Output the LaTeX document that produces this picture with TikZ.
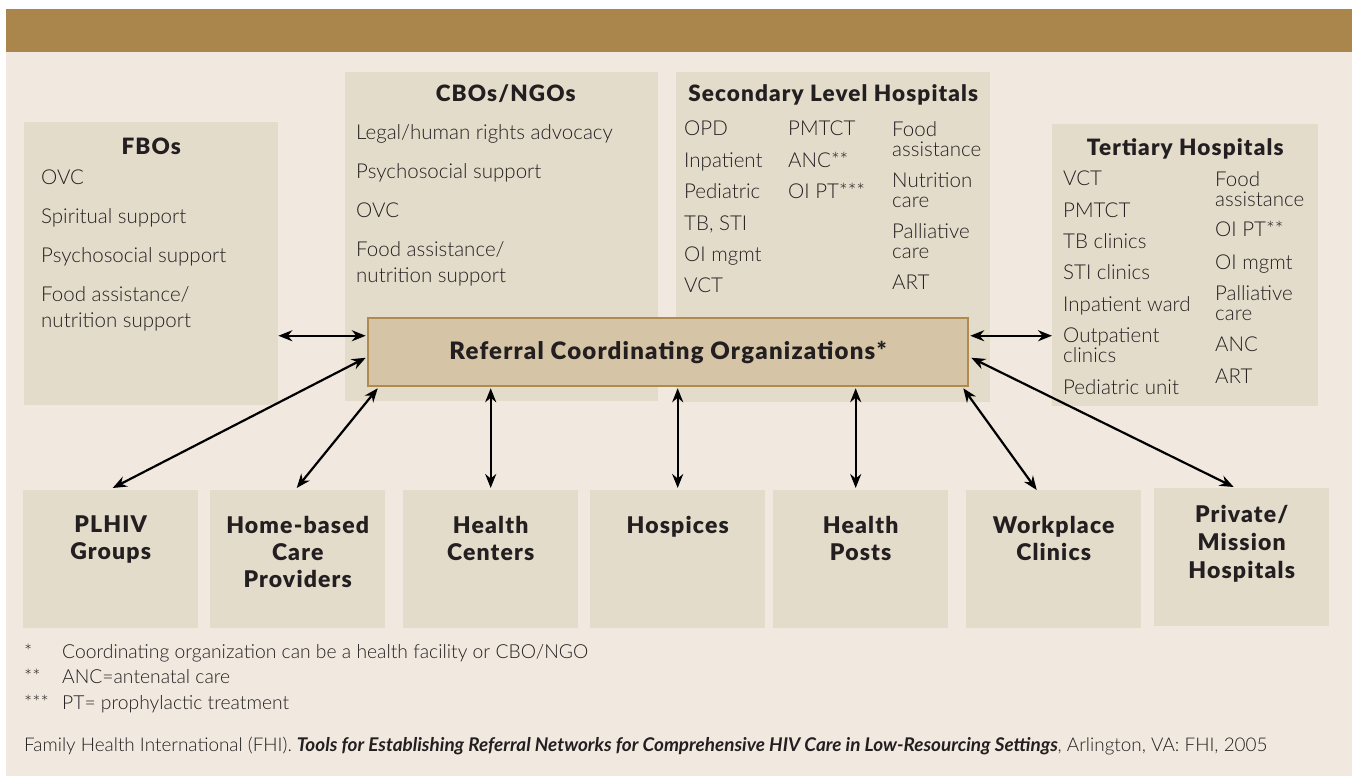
\documentclass[tikz,border=0pt]{standalone}
\usepackage{fontspec}
\setmainfont{Lato-Light.ttf}[BoldFont=Lato-Black.ttf, ItalicFont=Lato-LightItalic.ttf, BoldItalicFont=Lato-BoldItalic.ttf]
\newfontfamily\wideheavy{Lato-Black.ttf}[LetterSpace=5]
\usetikzlibrary{positioning, calc, arrows.meta}

\definecolor{bandbrown}{HTML}{AA864C}
\definecolor{pagecream}{HTML}{F1E9E0}
\definecolor{panelfill}{HTML}{E4DCCB}
\definecolor{reffill}{HTML}{D5C4A6}
\definecolor{refdraw}{HTML}{B08A4E}
\definecolor{inkblack}{HTML}{231F20}

\tikzset{
        panel/.style={fill=panelfill, inner sep=0pt, anchor=north west},
        bottom-box/.style={panel, minimum width=175pt, minimum height=138pt},
        heading/.style={font=\fontsize{22.5}{26}\wideheavy, text=inkblack, inner sep=0pt, anchor=base},
        itemlist/.style={font=\fontsize{20.5}{26}\selectfont, text=inkblack, align=left, inner sep=0pt, anchor=north west},
        tightlist/.style={itemlist, font=\fontsize{20.5}{20}\selectfont},
        boxlabel/.style={font=\fontsize{23}{27}\wideheavy, text=inkblack, align=center, inner sep=0pt, anchor=north},
        footnote/.style={font=\fontsize{19.3}{20}\selectfont, text=inkblack, inner sep=0pt, anchor=base west},
        link/.style={line width=2.2pt, {Stealth[length=14pt,width=11pt]}-{Stealth[length=14pt,width=11pt]}},
}

\begin{document}
\begin{tikzpicture}[x=1pt, y=-1pt]

        % PAGE
        \useasboundingbox (0,0) rectangle (1352,776);
        \fill[white] (0,0) rectangle (1352,776);
        \fill[pagecream] (6,52) rectangle (1352,776);
        \fill[bandbrown] (6,9) rectangle (1352,52);

        % UPPER PANELS
        \node[panel, minimum width=254pt, minimum height=283pt] (fbo)  at (24,122)   {};
        \node[panel, minimum width=313pt, minimum height=329pt] (cbo)  at (345,72)   {};
        \node[panel, minimum width=314pt, minimum height=330pt] (sec)  at (676,72)   {};
        \node[panel, minimum width=266pt, minimum height=282pt] (tert) at (1052,124) {};

        % PANEL TITLES
        \node[heading] (fbotitle)  at ($(fbo.north)+(0,32)$)      {FBOs};
        \node[heading] (cbotitle)  at ($(cbo.north)+(4,30)$)      {CBOs/NGOs};
        \node[heading] (sectitle)  at ($(sec.north)+(0,29)$)      {Secondary Level Hospitals};
        \node[heading] (terttitle) at ($(tert.north)+(0,31)$)     {Tertiary Hospitals};

        % PANEL ITEMS
        \node[itemlist] (fboitems) at ($(fbo.north west)+(17,48)$)
                {OVC\\[13pt] Spiritual support\\[13pt] Psychosocial support\\[13pt] Food assistance/\\ nutrition support};
        \node[itemlist] (cboitems) at ($(cbo.north west)+(11,52)$)
                {Legal/human rights advocacy\\[13pt] Psychosocial support\\[13pt] OVC\\[13pt] Food assistance/\\ nutrition support};
        \node[tightlist] (secA) at ($(sec.north west)+(8,49)$)
                {OPD\\[11.4pt] Inpatient\\[11.4pt] Pediatric\\[11.4pt] TB, STI\\[11.4pt] OI mgmt\\[11.4pt] VCT};
        \node[tightlist] (secB) at ($(sec.north west)+(112,49)$)
                {PMTCT\\[11.4pt] ANC**\\[11.4pt] OI PT***};
        \node[tightlist] (secC) at ($(sec.north west)+(216,49)$)
                {Food\\ assistance\\[11pt] Nutrition\\ care\\[11.5pt] Palliative\\ care\\[11pt] ART};
        \node[tightlist] (tertA) at ($(tert.north west)+(11,47)$)
                {VCT\\[11.3pt] PMTCT\\[11.3pt] TB clinics\\[11.3pt] STI clinics\\[11.3pt] Inpatient ward\\[11.3pt] Outpatient\\ clinics\\[12pt] Pediatric unit};
        \node[tightlist] (tertB) at ($(tert.north west)+(163,47)$)
                {Food\\ assistance\\[10pt] OI PT**\\[13pt] OI mgmt\\[11pt] Palliative\\ care\\[11pt] ANC\\[12pt] ART};

        % COORDINATING BOX
        \node[fill=reffill, draw=refdraw, line width=2.5pt, minimum width=600pt, minimum height=68pt,
              inner sep=0pt, font=\fontsize{24}{28}\wideheavy, text=inkblack] (ref) at (668,352)
                {Referral Coordinating Organizations*};

        % LOWER BOXES
        \node[bottom-box] (plhiv)    at (23,490)   {};
        \node[bottom-box] (home)     at (210,490)  {};
        \node[bottom-box] (centers)  at (403,490)  {};
        \node[bottom-box] (hospices) at (590,490)  {};
        \node[bottom-box] (posts)    at (773,490)  {};
        \node[bottom-box] (work)     at (966,490)  {};
        \node[bottom-box] (private)  at (1154,488) {};

        \node[boxlabel] (plhivtext)    at ($(plhiv.north)+(0,26)$)    {PLHIV\\ Groups};
        \node[boxlabel] (hometext)     at ($(home.north)+(0,26)$)     {Home-based\\ Care\\ Providers};
        \node[boxlabel] (centerstext)  at ($(centers.north)+(0,26)$)  {Health\\ Centers};
        \node[boxlabel] (hospicestext) at ($(hospices.north)+(0,26)$) {Hospices};
        \node[boxlabel] (poststext)    at ($(posts.north)+(0,26)$)    {Health\\ Posts};
        \node[boxlabel] (worktext)     at ($(work.north)+(0,26)$)     {Workplace\\ Clinics};
        \node[boxlabel, font=\fontsize{23}{28}\wideheavy] (privatetext) at ($(private.north)+(0,17)$) {Private/\\ Mission\\ Hospitals};

        % ARROW ENDS ON THE COORDINATING BOX
        \coordinate (refL1) at ($(ref.north west)+(-1,19)$);
        \coordinate (refL2) at ($(ref.north west)+(-1,41)$);
        \coordinate (refR1) at ($(ref.north east)+(1,19)$);
        \coordinate (refR2) at ($(ref.north east)+(2,41)$);
        \coordinate (refBL) at ($(ref.south west)+(11,1)$);
        \coordinate (refBR) at ($(ref.south east)+(-6,1)$);

        % CONNECT PANELS
        \draw[link] (fbo.east |- refL1)  -- (refL1);
        \draw[link] (tert.west |- refR1) -- (refR1);

        % CONNECT LOWER BOXES
        \draw[link] ($(plhiv.north)+(2,-2)$)  -- (refL2);
        \draw[link] ($(home.north)+(-1,-2)$)  -- (refBL);
        \draw[link] ($(centers.north)+(0,-2)$)  -- (centers.north |- refBL);
        \draw[link] ($(hospices.north)+(0,-2)$) -- (hospices.north |- refBL);
        \draw[link] ($(posts.north)+(-5,-2)$)   -- ($(posts.north |- refBL)+(-5,0)$);
        \draw[link] ($(work.north)+(-17,0)$)  -- (refBR);
        \draw[link] ($(private.north)+(-8,-1)$) -- (refR2);

        % FOOTNOTES
        \node[footnote] (noteA) at (24,658) {\makebox[38pt][l]{*}Coordinating organization can be a health facility or CBO/NGO};
        \node[footnote] (noteB) at (24,683) {\makebox[38pt][l]{**}ANC=antenatal care};
        \node[footnote] (noteC) at (24,709) {\makebox[38pt][l]{***}PT= prophylactic treatment};
        \node[footnote, font=\fontsize{18.9}{20}\selectfont] (source) at (24,751)
                {Family Health International (FHI). \textbf{\textit{Tools for Establishing Referral Networks for Comprehensive HIV Care in Low-Resourcing Settings}}, Arlington, VA: FHI, 2005};

\end{tikzpicture}
\end{document}
